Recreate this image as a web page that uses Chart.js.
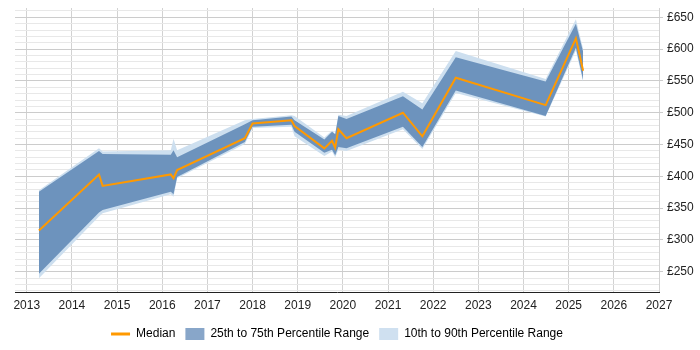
<!DOCTYPE html>
<html><head><meta charset="utf-8">
<script src="https://cdn.jsdelivr.net/npm/chart.js@4"></script>
<style>html,body{margin:0;padding:0;background:#fff}#wrap{width:700px;height:350px}</style>
</head><body><div id="wrap"><canvas id="c" width="700" height="350"></canvas></div>
<script>
const years  = [2013.27, 2014.60, 2014.68, 2016.19, 2016.25, 2016.33, 2017.83, 2018.00, 2018.86, 2018.93, 2019.59, 2019.76, 2019.83, 2019.90, 2020.08, 2021.33, 2021.76, 2022.50, 2024.49, 2025.16, 2025.32];
const median = [315, 403, 385, 403, 397, 410, 460, 483, 488, 479, 444, 456, 445, 474, 460, 500, 463, 555, 512, 617, 566];
const p25    = [247, 343, 347, 376, 372, 399, 454, 478, 481, 470, 437, 442, 433, 446, 444, 478, 446, 535, 495, 602, 551];
const p75    = [376, 440, 435, 434, 441, 430, 482, 488, 494, 488, 458, 470, 466, 495, 490, 526, 505, 587, 549, 640, 596];
const p10    = [240, 337, 342, 372, 368, 397, 451, 476, 478, 463, 432, 439, 430, 442, 440, 474, 443, 531, 494, 598, 548];
const p90    = [378, 444, 439, 441, 459, 441, 488, 490, 496, 495, 461, 472, 467, 497, 495, 533, 515, 597, 553, 647, 600];
const xTickYears = [2013, 2014, 2015, 2016, 2017, 2018, 2019, 2020, 2021, 2022, 2023, 2024, 2025, 2026, 2027];
const yTickLabels = [250, 300, 350, 400, 450, 500, 550, 600, 650];

const yGrid = [];
for (let v = 220; v <= 660; v += 10) yGrid.push(v);
const pts = arr => years.map((x, i) => ({x: x, y: arr[i]}));

const DARK = '#6d93bd', LIGHT = '#cddfef', ORANGE = '#ff9900';
const FONT = {family: '"Liberation Sans", Arial, sans-serif', size: 12};
const TINY = {family: '"Liberation Sans", Arial, sans-serif', size: 1};

const centerLegend = {
  id: 'centerLegend',
  beforeDraw(chart) {
    const l = chart.legend;
    if (l) { l.left = chart.chartArea.left; l.right = chart.chartArea.right; }
  }
};

new Chart(document.getElementById('c'), {
  type: 'line',
  plugins: [centerLegend],
  data: {
    datasets: [
      {label: 'Median', data: pts(median), borderColor: ORANGE, borderWidth: 2, pointRadius: 0, fill: false, tension: 0},
      {label: 'p75', data: pts(p75), borderWidth: 0, borderColor: 'rgba(0,0,0,0)', pointRadius: 0, fill: 2, backgroundColor: DARK, tension: 0},
      {label: 'p25', data: pts(p25), borderWidth: 0, borderColor: 'rgba(0,0,0,0)', pointRadius: 0, fill: false, tension: 0},
      {label: 'p90', data: pts(p90), borderWidth: 0, borderColor: 'rgba(0,0,0,0)', pointRadius: 0, fill: 4, backgroundColor: LIGHT, tension: 0},
      {label: 'p10', data: pts(p10), borderWidth: 0, borderColor: 'rgba(0,0,0,0)', pointRadius: 0, fill: false, tension: 0}
    ]
  },
  options: {
    responsive: false,
    animation: false,
    devicePixelRatio: 1,
    layout: {padding: {left: 15, right: 2.3, top: 8, bottom: 0}},
    scales: {
      x: {
        type: 'linear', min: 2012.74, max: 2027,
        afterBuildTicks: axis => { axis.ticks = xTickYears.map(v => ({value: v})); },
        ticks: {callback: v => String(v), font: FONT, color: '#222', maxRotation: 0, autoSkip: false, padding: 5.5},
        grid: {color: '#d2d2d2', drawTicks: false},
        border: {color: '#222'}
      },
      y: {
        position: 'right', min: 217.3, max: 664.6,
        afterBuildTicks: axis => { axis.ticks = yGrid.map(v => ({value: v})); },
        ticks: {
          callback: v => (yTickLabels.includes(v) ? '£' + v : ''),
          font: c => (c.tick && yTickLabels.includes(c.tick.value) ? FONT : TINY),
          color: '#222', autoSkip: false, padding: 4
        },
        grid: {
          color: c => (c.tick && c.tick.value % 50 === 0 ? '#cccccc' : '#e8e8e8'),
          tickColor: c => (c.tick && c.tick.value % 50 === 0 ? '#cccccc' : 'rgba(0,0,0,0)'),
          tickLength: 4
        },
        border: {display: false}
      }
    },
    plugins: {
      tooltip: {enabled: false},
      legend: {
        position: 'bottom',
        labels: {
          font: FONT, color: '#222', usePointStyle: true, pointStyleWidth: 19, boxHeight: 12, padding: 10,
          generateLabels: () => [
            {text: 'Median', pointStyle: 'line', strokeStyle: ORANGE, fillStyle: ORANGE, lineWidth: 3, datasetIndex: 0},
            {text: '25th to 75th Percentile Range', pointStyle: 'rect', fillStyle: '#88a6c9', strokeStyle: '#88a6c9', lineWidth: 0, datasetIndex: 1},
            {text: '10th to 90th Percentile Range', pointStyle: 'rect', fillStyle: '#cfe0f0', strokeStyle: '#cfe0f0', lineWidth: 0, datasetIndex: 3}
          ]
        }
      }
    }
  }
});
</script></body></html>
